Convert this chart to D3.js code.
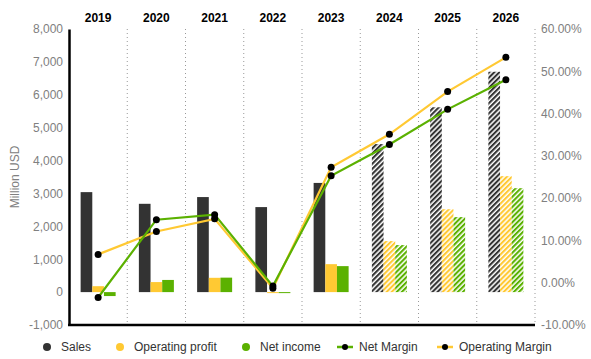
<!DOCTYPE html>
<html><head><meta charset="utf-8">
<script src="https://cdn.jsdelivr.net/npm/d3@7"></script>
<style>body{margin:0;background:#fff;font-family:"Liberation Sans",Arial,sans-serif;}</style>
</head><body><svg id="c" width="591" height="359"></svg>
<script>
const years = ["2019","2020","2021","2022","2023","2024","2025","2026"];
const forecast = [false,false,false,false,false,true,true,true];
const sales = [3040, 2685, 2890, 2585, 3320, 4500, 5620, 6700];
const opProfit = [180, 305, 435, -30, 850, 1550, 2520, 3525];
const netIncome = [-120, 370, 440, -20, 790, 1430, 2280, 3160];
const netMargin = [-3.5, 14.9, 16.1, -0.8, 25.3, 32.7, 41.0, 48.0];
const opMargin = [6.7, 12.1, 15.1, -1.3, 27.3, 35.1, 45.2, 53.3];
const leftTicks = [-1000,0,1000,2000,3000,4000,5000,6000,7000,8000];
const rightTicks = [-10,0,10,20,30,40,50,60];

const colors = {sales:"#333333", op:"#FFC933", net:"#5BB101"};
const svg = d3.select("#c");
const L=69, R=535, T=29, B=325;
const x = d3.scaleBand().domain(years).range([L,R]).paddingInner(0).paddingOuter(0);
const y = d3.scaleLinear().domain([-1000,8000]).range([B,T]);
const y2 = d3.scaleLinear().domain([-10,60]).range([B,T]);
const sub = d3.scaleBand().domain(["sales","op","net"]).range([0,35]).padding(0);
const groupOff = (x.bandwidth()-35)/2;
const fmtL = d => d3.format(",")(d).replace("\u2212","-");
const fmtR = d => (d<0?"-":"")+Math.abs(d).toFixed(2)+"%";

// patterns
const defs = svg.append("defs");
const P = 3.6;
Object.entries(colors).forEach(([k,c])=>{
  const p = defs.append("pattern").attr("id","h_"+k).attr("patternUnits","userSpaceOnUse")
    .attr("width",P).attr("height",P).attr("patternTransform","rotate(45)");
  p.append("rect").attr("width",P).attr("height",P).attr("fill","#fff");
  p.append("rect").attr("x",0).attr("width",2.1).attr("height",P).attr("fill",c);
});

// dotted separators
svg.append("g").selectAll("line").data(years).join("line")
  .attr("x1",(d,i)=>L+(i+1)*x.bandwidth()).attr("x2",(d,i)=>L+(i+1)*x.bandwidth())
  .attr("y1",T).attr("y2",B)
  .attr("stroke","#999").attr("stroke-width",1).attr("stroke-dasharray","1,3");

// left axis
const la = svg.append("g").attr("transform",`translate(${L},0)`)
  .call(d3.axisLeft(y).tickValues(leftTicks).tickSize(0).tickPadding(6).tickFormat(fmtL));
la.select(".domain").attr("stroke","#000").attr("stroke-width",2.5);
la.selectAll("text").attr("fill","#808080").style("font-size","12px").style("font-family","Liberation Sans, Arial, sans-serif");

// right axis
const ra = svg.append("g").attr("transform",`translate(${R},0)`)
  .call(d3.axisRight(y2).tickValues(rightTicks).tickSize(0).tickPadding(6).tickFormat(fmtR));
ra.select(".domain").remove();
ra.selectAll("text").attr("fill","#808080").style("font-size","12px").style("font-family","Liberation Sans, Arial, sans-serif");

// bottom line
svg.append("line").attr("x1",L-1).attr("x2",R).attr("y1",B).attr("y2",B).attr("stroke","#000").attr("stroke-width",2.5);

// year labels top
svg.append("g").selectAll("text").data(years).join("text")
  .attr("x",d=>x(d)+x.bandwidth()/2).attr("y",22).attr("text-anchor","middle")
  .attr("font-weight","bold").attr("font-size","12px").attr("fill","#000").text(d=>d);

// y title
svg.append("text").attr("transform",`translate(19,177) rotate(-90)`).attr("text-anchor","middle")
  .attr("font-size","12px").attr("fill","#808080").text("Million USD");

// bars
const series = [["sales",sales],["op",opProfit],["net",netIncome]];
series.forEach(([k,vals])=>{
  svg.append("g").selectAll("rect").data(years).join("rect")
    .attr("x",d=>x(d)+groupOff+sub(k))
    .attr("width",sub.bandwidth())
    .attr("y",(d,i)=>Math.min(y(vals[i]),y(0)))
    .attr("height",(d,i)=>Math.max(1,Math.abs(y(vals[i])-y(0))))
    .attr("fill",(d,i)=>forecast[i]?`url(#h_${k})`:colors[k]);
});

// lines
const lineGen = vals => d3.line().x((d,i)=>x(years[i])+x.bandwidth()/2).y(d=>y2(d))(vals);
[[opMargin,colors.op],[netMargin,colors.net]].forEach(([vals,c])=>{
  svg.append("path").attr("d",lineGen(vals)).attr("fill","none").attr("stroke",c).attr("stroke-width",2.2);
});
[opMargin,netMargin].forEach(vals=>{
  svg.append("g").selectAll("circle").data(vals).join("circle")
    .attr("cx",(d,i)=>x(years[i])+x.bandwidth()/2).attr("cy",d=>y2(d)).attr("r",3.5).attr("fill","#000");
});

// legend
const ly = 347;
const lg = svg.append("g").attr("font-size","12px").attr("fill","#333");
[["Sales",colors.sales,47],["Operating profit",colors.op,120],["Net income",colors.net,246]].forEach(([t,c,cx])=>{
  lg.append("circle").attr("cx",cx).attr("cy",ly).attr("r",4).attr("fill",c);
  lg.append("text").attr("x",cx+14).attr("y",ly+4).attr("fill","#333").text(t);
});
[["Net Margin",colors.net,345],["Operating Margin",colors.op,445]].forEach(([t,c,cx])=>{
  lg.append("line").attr("x1",cx-8).attr("x2",cx+8).attr("y1",ly).attr("y2",ly).attr("stroke",c).attr("stroke-width",2.5);
  lg.append("circle").attr("cx",cx).attr("cy",ly).attr("r",3).attr("fill","#000");
  lg.append("text").attr("x",cx+14).attr("y",ly+4).attr("fill","#333").text(t);
});
</script></body></html>
